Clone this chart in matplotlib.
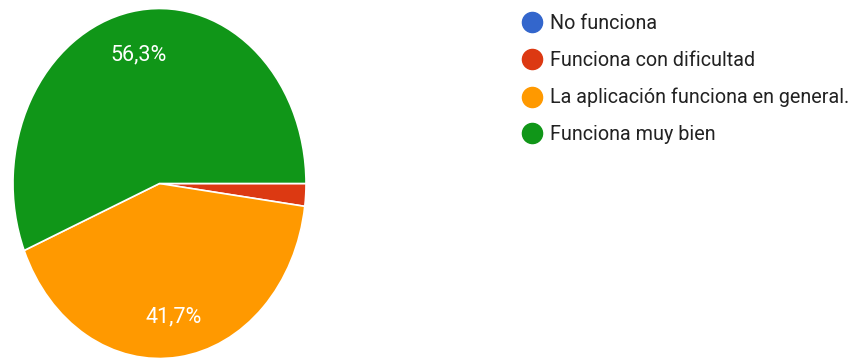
import matplotlib
matplotlib.use("Agg")
import matplotlib.pyplot as plt
from matplotlib.lines import Line2D
from decimal import Decimal, ROUND_HALF_UP

plt.rcParams['font.family'] = ['Roboto', 'DejaVu Sans']

categories = ["No funciona", "Funciona con dificultad",
              "La aplicación funciona en general.", "Funciona muy bien"]
counts = [0, 1, 20, 27]
colors = ["#3366cc", "#dc3912", "#ff9900", "#109618"]

fig = plt.figure(figsize=(8.53, 3.58), dpi=100)
ax = fig.add_axes([13 / 853, -0.5 / 358, 293 / 853, 350 / 358])


def pct_label(p):
    if p < 5:
        return ""
    v = Decimal(str(round(float(p), 6))).quantize(Decimal("0.1"), rounding=ROUND_HALF_UP)
    return f"{v}%".replace(".", ",")


wedges, texts, autotexts = ax.pie(
    counts, colors=colors, startangle=0, counterclock=False,
    autopct=pct_label, pctdistance=0.75,
    wedgeprops=dict(edgecolor="white", linewidth=1.2),
    textprops=dict(color="white", fontsize=15.5),
)
# the lower label sits a little further out than the upper one
autotexts[2].set_position((autotexts[2].get_position()[0],
                           autotexts[2].get_position()[1] - 0.02))
ax.set_aspect("auto")
ax.set_xlim(-1, 1)
ax.set_ylim(-1, 1)
ax.axis("off")

handles = [Line2D([], [], linestyle="none", marker="o", markersize=14.5,
                  markerfacecolor=c, markeredgecolor=c) for c in colors]
leg = fig.legend(handles, categories, loc="upper left",
                 bbox_to_anchor=(512 / 853, 1 - 6.5 / 358), frameon=False,
                 fontsize=14.2, labelspacing=0.9, handletextpad=0.35,
                 handlelength=1.2, borderaxespad=0)
for t in leg.get_texts():
    t.set_color("#222222")

fig.savefig("out.png", dpi=100)
